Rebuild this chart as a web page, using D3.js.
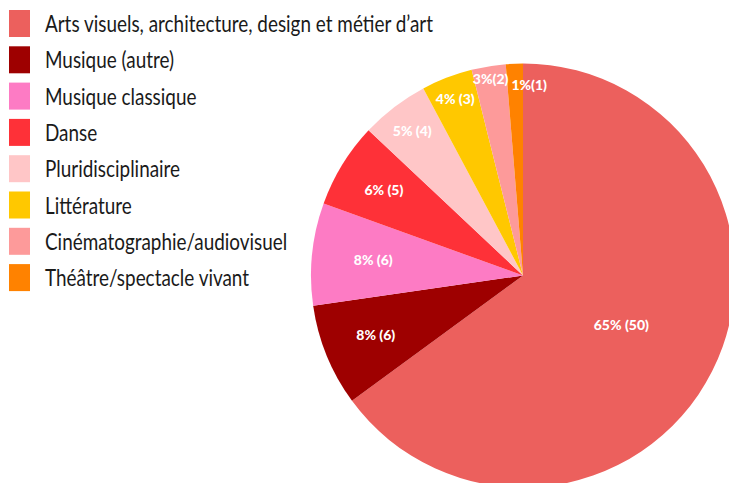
<!DOCTYPE html>
<html>
<head>
<meta charset="utf-8">
<script src="https://cdn.jsdelivr.net/npm/d3@7"></script>
<style>
  body { margin: 0; background: #fff; }
  svg { display: block; }
</style>
</head>
<body>
<svg id="chart"></svg>
<script>
// data
var categories = [
  "Arts visuels, architecture, design et métier d\u2019art",
  "Musique (autre)",
  "Musique classique",
  "Danse",
  "Pluridisciplinaire",
  "Littérature",
  "Cinématographie/audiovisuel",
  "Théâtre/spectacle vivant"
];
var counts = [50, 6, 6, 5, 4, 3, 2, 1];
var sliceLabels = ["65% (50)", "8% (6)", "8% (6)", "6% (5)", "5% (4)", "4% (3)", "3%(2)", "1%(1)"];
var colors = ["#ec605d", "#9e0000", "#fd7bc4", "#fe3138", "#ffc6c7", "#ffc800", "#fd9a9a", "#ff8200"];

// label placement tweaks (fraction of radius, x nudge)
var labelR = [0.52, 0.75, 0.71, 0.77, 0.86, 0.89, 0.94, 0.9];
var labelDx = [0, 0, 0, 0, 0, 0, 0, 14];

var W = 729, H = 483;
var cx = 523, cy = 275.5, R = 212;

var svg = d3.select("#chart").attr("width", W).attr("height", H);

var pie = d3.pie().sort(null).value(function (d) { return d; });
var arcs = pie(counts);
var arc = d3.arc().innerRadius(0).outerRadius(R);

var g = svg.append("g").attr("transform", "translate(" + cx + "," + cy + ")");

g.selectAll("path")
  .data(arcs)
  .enter()
  .append("path")
  .attr("d", arc)
  .style("fill", function (d, i) { return colors[i]; });

g.selectAll("text")
  .data(arcs)
  .enter()
  .append("text")
  .attr("x", function (d, i) {
    var a = (d.startAngle + d.endAngle) / 2;
    return Math.sin(a) * R * labelR[i] + labelDx[i];
  })
  .attr("y", function (d, i) {
    var a = (d.startAngle + d.endAngle) / 2;
    return -Math.cos(a) * R * labelR[i];
  })
  .attr("dy", "0.35em")
  .style("text-anchor", "middle")
  .style("font-family", "Lato, 'Open Sans', sans-serif")
  .style("font-weight", "900")
  .style("font-size", "14px")
  .style("fill", "#fff")
  .text(function (d, i) { return sliceLabels[i]; });

// legend
var legend = svg.append("g");
var rowH = 36.3;
var rows = legend.selectAll("g")
  .data(categories)
  .enter()
  .append("g")
  .attr("transform", function (d, i) { return "translate(9," + (10 + i * rowH) + ")"; });

rows.append("rect")
  .attr("width", 21)
  .attr("height", 27)
  .style("fill", function (d, i) { return colors[i]; });

var labels = rows.append("text")
  .attr("x", 36)
  .attr("y", 22)
  .style("font-family", "Lato, 'Open Sans', sans-serif")
  .style("font-size", "23px")
  .style("fill", "#1a1a1a")
  .text(function (d) { return d; });

// squeeze legend text to the narrow width of the original font
var w0 = labels.node().getComputedTextLength();
var sx = 388 / w0;
labels.attr("transform", "translate(36,0) scale(" + sx + ",1) translate(-36,0)");
</script>
</body>
</html>
